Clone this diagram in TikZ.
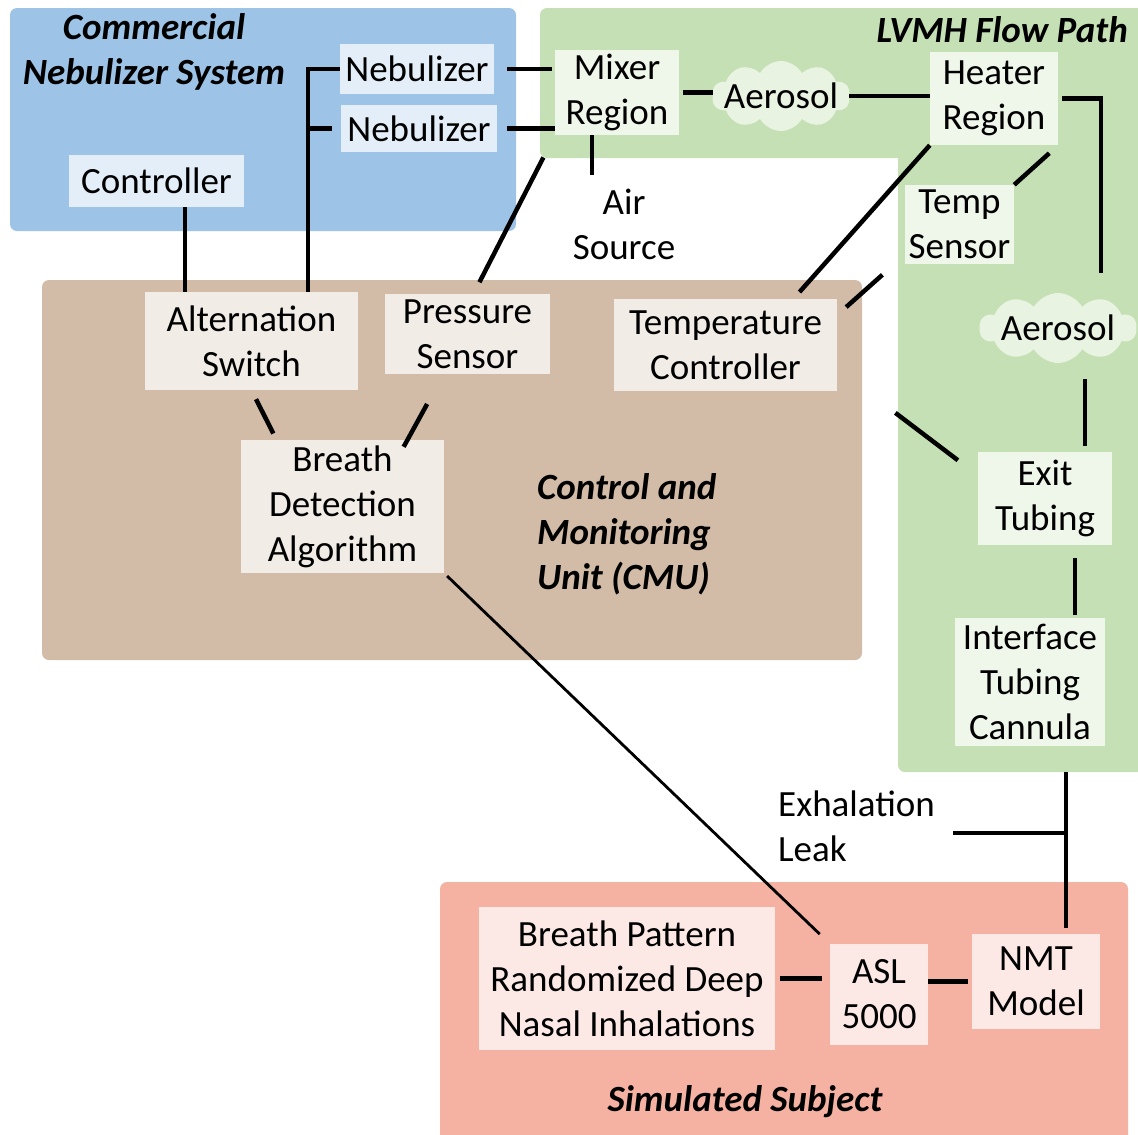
\documentclass[tikz,border=0pt]{standalone}
\usepackage{fontspec}
\setmainfont{Carlito}
\usetikzlibrary{shapes.symbols}
\definecolor{cnsblue}{HTML}{9DC3E6}
\definecolor{flowgreen}{HTML}{C5E0B4}
\definecolor{cmubrown}{HTML}{D2BCA7}
\definecolor{subjred}{HTML}{F5B2A3}

\begin{document}
\begin{tikzpicture}[x=1pt,y=-1pt,
  every node/.style={font=\fontsize{37}{45}\selectfont,align=center},
  unit/.style={fill=white!72!#1,inner sep=0pt},
  region/.style={fill=#1,rounded corners=7pt},
  puff/.style={cloud,cloud puffs=10,cloud puff arc=120,cloud ignores aspect,
    fill=white!62!flowgreen,inner xsep=-40pt,inner ysep=-15pt},
  title/.style={font=\fontsize{37}{45}\selectfont\bfseries\itshape,inner sep=0pt},
  link/.style={line width=4.5pt},
  thinlink/.style={line width=2.8pt}]
\useasboundingbox (0,0) rectangle (1138,1135);
\fill[region=cnsblue] (10,8) rectangle (516,231);
\fill[region=flowgreen] (540,8) rectangle (1146,158);
\fill[region=flowgreen] (898,8) rectangle (1146,772);
\fill[region=cmubrown] (42,280) rectangle (862,660);
\fill[region=subjred] (440,882) rectangle (1128,1150);

\node[title] (cnstitle) at (154,52) {Commercial\\Nebulizer System};
\node[title,anchor=east] (flowtitle) at (1128,30) {LVMH Flow Path};
\node[title,anchor=west,align=left] (cmutitle) at (537,534) {Control and\\Monitoring\\Unit (CMU)};
\node[title] (subjtitle) at (745,1102) {Simulated Subject};

\node[unit=cnsblue,minimum width=154pt,minimum height=50pt] (neba) at (417,69) {Nebulizer};
\node[unit=cnsblue,minimum width=156pt,minimum height=47pt] (nebb) at (419,128.5) {Nebulizer};
\node[unit=cnsblue,minimum width=175pt,minimum height=52pt] (ctrl) at (156.5,181) {Controller};
\node[unit=flowgreen,minimum width=124pt,minimum height=85pt] (mixer) at (617,92.5) {Mixer\\Region};
\node[puff,minimum width=138pt,minimum height=70pt] (aer1) at (781,96) {Aerosol};
\node[unit=flowgreen,minimum width=128pt,minimum height=93pt] (heater) at (994,98.5) {Heater\\Region};
\node[unit=flowgreen,minimum width=109pt,minimum height=79pt] (tsens) at (959.5,224.5) {Temp\\Sensor};
\node[puff,minimum width=157pt,minimum height=70pt] (aer2) at (1058,328) {Aerosol};
\node[unit=flowgreen,minimum width=134pt,minimum height=93pt] (exit) at (1045,498.5) {Exit\\Tubing};
\node[unit=flowgreen,minimum width=150pt,minimum height=128pt] (iface) at (1030,682) {Interface\\Tubing\\Cannula};
\node[inner sep=0pt] (air) at (624,224) {Air\\Source};

\node[unit=cmubrown,minimum width=213pt,minimum height=98pt] (alt) at (251.5,341) {Alternation\\Switch};
\node[unit=cmubrown,minimum width=165pt,minimum height=80pt] (psens) at (467.5,334) {Pressure\\Sensor};
\node[unit=cmubrown,minimum width=223pt,minimum height=92pt] (tctrl) at (725.5,345) {Temperature\\Controller};
\node[unit=cmubrown,minimum width=203pt,minimum height=133pt] (bda) at (342.5,506.5) {Breath\\Detection\\Algorithm};

\node[anchor=west,align=left,inner sep=0pt] (exh) at (778,826) {Exhalation\\Leak};
\node[unit=subjred,minimum width=296pt,minimum height=143pt] (bp) at (627,978.5) {Breath Pattern\\Randomized Deep\\Nasal Inhalations};
\node[unit=subjred,minimum width=98pt,minimum height=101pt] (asl) at (879,994.5) {ASL\\5000};
\node[unit=subjred,minimum width=128pt,minimum height=95pt] (nmt) at (1036,981.5) {NMT\\Model};

\coordinate (bus) at (308,69);
\coordinate (cdrop) at ([xshift=28.5pt]ctrl.south);
\coordinate (airtap) at ([xshift=-25pt]mixer.south);
\coordinate (etop) at ([xshift=40pt]exit.north);
\coordinate (tee) at (1066,833);
\coordinate (leak) at (953,833);
\draw[link] (neba.west) -- (bus) -- (bus |- alt.north);
\draw[link,shorten <=9pt] (nebb.west) -- (nebb.west -| bus);
\draw[link] (cdrop) -- (cdrop |- alt.north);
\draw[link,shorten <=13pt,shorten >=3pt] (neba.east) -- (neba.east -| mixer.west);
\draw[link,shorten <=10pt] (nebb.east) -- (nebb.east -| mixer.west);
\draw[link,shorten <=4pt] (mixer.east) -- (mixer.east -| aer1.west);
\draw[link] (aer1.east) -- (aer1.east -| heater.west);
\draw[link,shorten >=13pt] (airtap) -- (airtap |- air.north);
\draw[link,shorten <=4pt,shorten >=20pt] (heater.east) -| ([xshift=43pt]aer2.north);
\draw[link,shorten <=12pt] (heater.south east) -- (tsens.north east);
\draw[link,shorten >=9pt] (heater.south west) -- ([xshift=68pt]tctrl.north);
\draw[link,shorten <=12pt,shorten >=30pt] (tctrl.15) -- (tsens.209);
\draw[link,shorten <=25pt,shorten >=13pt] (mixer.south west) -- ([xshift=6pt]psens.north);
\draw[link,shorten <=10pt,shorten >=7pt] (alt.south) -- ([xshift=-66pt]bda.north);
\draw[link,shorten <=34pt,shorten >=-8pt] ([xshift=-24pt]psens.south) -- ([xshift=65pt]bda.north);
\draw[link,shorten <=73pt,shorten >=25pt] (tctrl.-12) -- (exit.161);
\draw[link,shorten <=16pt,shorten >=6pt] (aer2.south -| etop) -- (etop);
\draw[link,shorten <=13pt,shorten >=3pt] ([xshift=30pt]exit.south) -- ([xshift=45pt]iface.north);
\draw[link,shorten <=26pt,shorten >=6pt] ([xshift=36pt]iface.south) -- ([xshift=30pt]nmt.north);
\draw[link] (leak) -- (tee);
\draw[link,shorten <=5pt,shorten >=8pt] (bp.east) -- (bp.east -| asl.west);
\draw[link,shorten >=4pt] (nmt.west -| asl.east) -- (nmt.west);
\draw[thinlink,shorten <=4pt,shorten >=14pt] (bda.south east) -- (asl.north west);
\end{tikzpicture}
\end{document}
